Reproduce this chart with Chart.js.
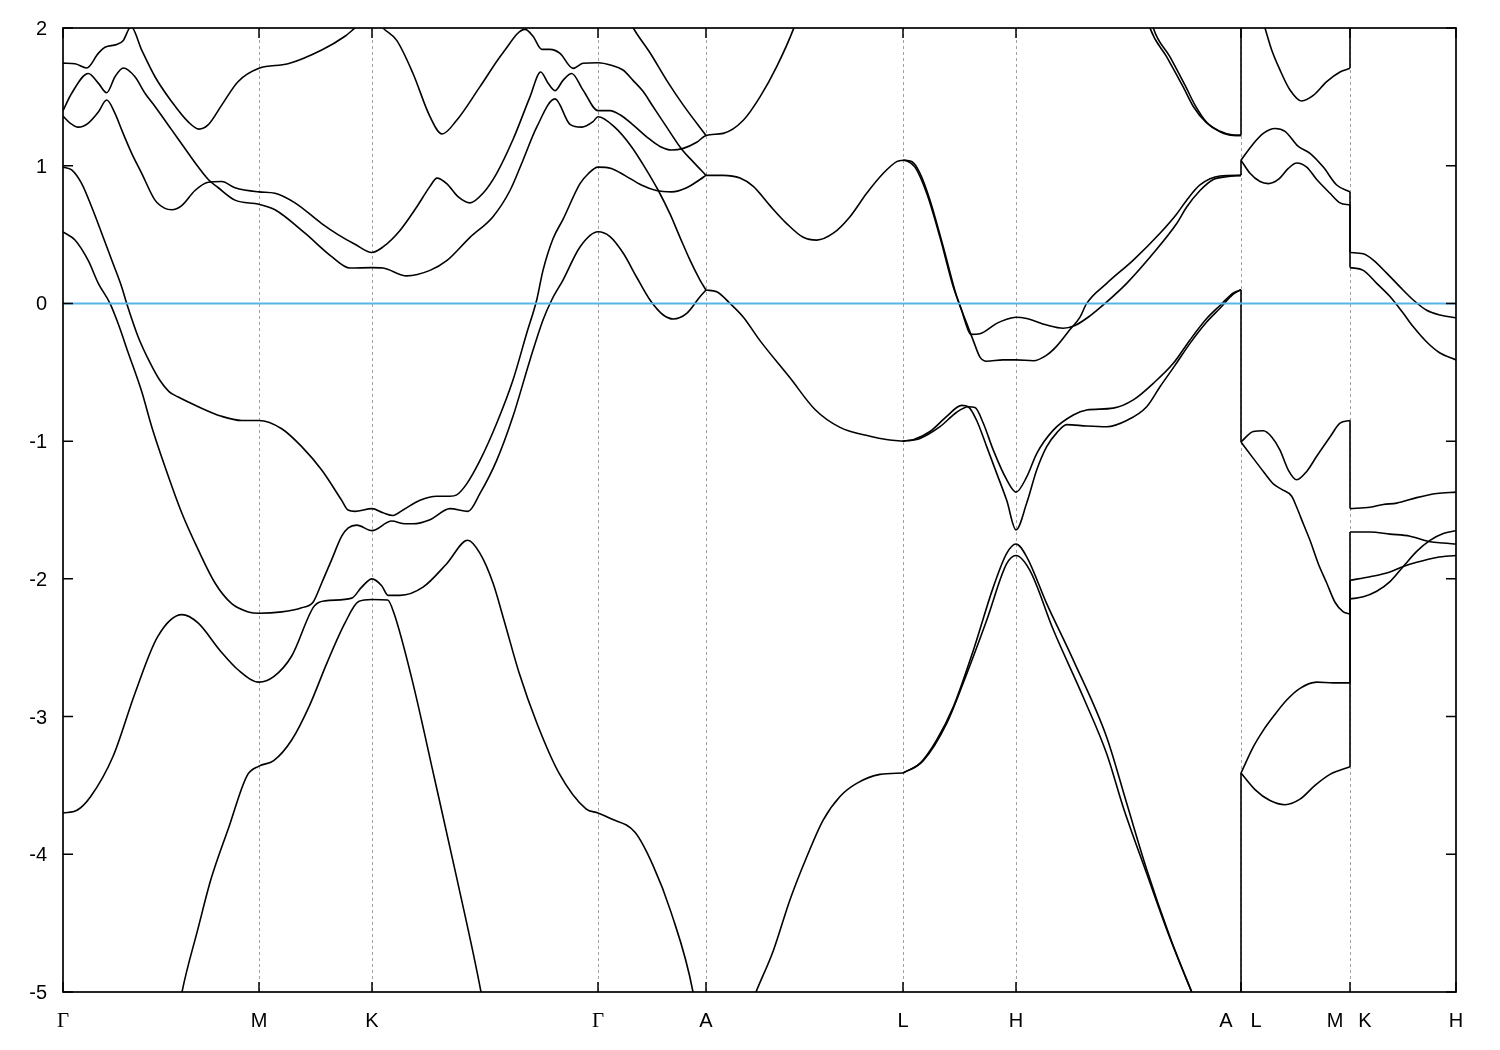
<!DOCTYPE html>
<html><head><meta charset="utf-8">
<script src="https://cdn.jsdelivr.net/npm/chart.js@4.4.1/dist/chart.umd.min.js"></script>
<style>html,body{margin:0;padding:0;background:#fff}</style>
</head><body>
<canvas id="c" width="1500" height="1050"></canvas>
<script>
// high-symmetry points along the k-path (path distance units)
const kTicks = [0, 1.96, 3.09, 5.35, 6.43, 8.40, 9.53, 11.78, 12.87, 13.93];
const kLabels = ['Γ', 'M', 'K', 'Γ', 'A', 'L', 'H', 'A|L', 'M|K', 'H'];
const energyTicks = [2, 1, 0, -1, -2, -3, -4, -5];
const fermiLevel = 0;

// bands: [k, E(eV)]
const bandA = [[0,1.745],[0.12,1.74],[0.237,1.71],[0.353,1.816],[0.42,1.86],[0.537,1.88],[0.603,1.91],[0.68,2.01],[0.787,1.84],[0.92,1.646],[1.087,1.465],[1.25,1.32],[1.36,1.266],[1.45,1.296],[1.587,1.44],[1.75,1.61],[1.96,1.707],[2.25,1.74],[2.587,1.84],[2.82,1.94],[2.92,2.0],[3.09,2.1],[3.2,2.0],[3.337,1.91],[3.5,1.67],[3.67,1.356],[3.79,1.23],[3.937,1.33],[4.17,1.574],[4.40,1.82],[4.62,1.99],[4.70,1.94],[4.787,1.845],[4.87,1.845],[4.97,1.816],[5.10,1.707],[5.20,1.744],[5.35,1.748],[5.483,1.73],[5.60,1.695],[5.70,1.62],[5.80,1.54],[5.90,1.43],[6.037,1.28],[6.187,1.12],[6.30,1.03],[6.43,0.93]];
const bandB = [[0,1.40],[0.087,1.526],[0.253,1.67],[0.353,1.60],[0.437,1.53],[0.52,1.646],[0.603,1.71],[0.72,1.646],[0.82,1.526],[0.92,1.43],[1.087,1.26],[1.253,1.09],[1.353,0.99],[1.453,0.90],[1.553,0.84],[1.72,0.75],[1.96,0.72],[2.12,0.68],[2.42,0.51],[2.687,0.34],[2.87,0.257],[3.09,0.26],[3.2,0.257],[3.437,0.20],[3.67,0.24],[3.837,0.31],[4.07,0.48],[4.30,0.63],[4.47,0.82],[4.60,1.04],[4.737,1.28],[4.92,1.485],[5.07,1.30],[5.187,1.28],[5.30,1.32],[5.35,1.356],[5.517,1.28],[5.683,1.14],[5.817,0.99],[5.953,0.82],[6.07,0.65],[6.17,0.48],[6.27,0.315],[6.37,0.17],[6.43,0.097]];
const bandC = [[0,1.36],[0.07,1.31],[0.153,1.28],[0.253,1.31],[0.353,1.39],[0.437,1.477],[0.52,1.38],[0.587,1.26],[0.687,1.09],[0.787,0.945],[0.92,0.75],[1.02,0.69],[1.087,0.68],[1.187,0.71],[1.32,0.82],[1.453,0.88],[1.587,0.885],[1.72,0.84],[1.96,0.81],[2.12,0.80],[2.32,0.73],[2.587,0.58],[2.75,0.50],[2.92,0.43],[3.09,0.37],[3.20,0.41],[3.37,0.53],[3.537,0.70],[3.67,0.85],[3.74,0.91],[3.837,0.87],[3.95,0.775],[4.07,0.73],[4.20,0.80],[4.337,0.945],[4.50,1.19],[4.67,1.50],[4.777,1.68],[4.85,1.60],[4.92,1.545],[5.00,1.62],[5.087,1.67],[5.20,1.55],[5.35,1.40],[5.47,1.40],[5.57,1.37],[5.703,1.295],[5.837,1.21],[5.97,1.14],[6.087,1.114],[6.203,1.126],[6.337,1.17],[6.43,1.22],[6.603,1.235],[6.803,1.33],[6.97,1.50],[7.137,1.72],[7.303,1.99],[7.40,2.2]];
const bandD = [[0,0.99],[0.087,0.97],[0.187,0.87],[0.287,0.70],[0.387,0.51],[0.487,0.315],[0.587,0.12],[0.637,0.0],[0.753,-0.245],[0.87,-0.43],[0.97,-0.56],[1.06,-0.64],[1.153,-0.68],[1.353,-0.75],[1.587,-0.82],[1.787,-0.85],[1.96,-0.85],[2.187,-0.91],[2.387,-1.04],[2.587,-1.21],[2.787,-1.43],[2.85,-1.50],[2.92,-1.51],[3.09,-1.49],[3.20,-1.52],[3.30,-1.54],[3.40,-1.50],[3.57,-1.43],[3.737,-1.40],[3.87,-1.40],[3.937,-1.39],[4.037,-1.31],[4.17,-1.14],[4.337,-0.87],[4.50,-0.556],[4.637,-0.217],[4.737,0.025],[4.80,0.24],[4.90,0.47],[5.00,0.61],[5.17,0.87],[5.25,0.94],[5.35,0.99],[5.483,0.98],[5.617,0.93],[5.783,0.86],[5.933,0.82],[6.087,0.81],[6.237,0.84],[6.37,0.90],[6.43,0.93]];
const bandE = [[0,0.52],[0.12,0.46],[0.253,0.31],[0.353,0.146],[0.47,0.0],[0.553,-0.15],[0.653,-0.36],[0.787,-0.64],[0.887,-0.895],[1.02,-1.186],[1.187,-1.52],[1.353,-1.79],[1.52,-2.03],[1.687,-2.18],[1.853,-2.24],[1.96,-2.25],[2.187,-2.24],[2.387,-2.21],[2.50,-2.17],[2.587,-2.03],[2.687,-1.86],[2.787,-1.69],[2.853,-1.63],[2.937,-1.61],[3.09,-1.65],[3.287,-1.58],[3.42,-1.60],[3.50,-1.60],[3.67,-1.57],[3.87,-1.49],[4.05,-1.51],[4.17,-1.38],[4.337,-1.14],[4.50,-0.82],[4.67,-0.41],[4.80,-0.12],[4.887,0.025],[5.00,0.17],[5.17,0.41],[5.35,0.52],[5.47,0.485],[5.603,0.364],[5.737,0.19],[5.87,0.025],[6.003,-0.084],[6.103,-0.113],[6.237,-0.072],[6.37,0.049],[6.43,0.097]];
const bandF = [[5.62,2.12],[5.703,2.0],[5.87,1.82],[6.037,1.62],[6.203,1.44],[6.43,1.22]];
const bandG = [[0,-3.70],[0.14,-3.68],[0.277,-3.58],[0.50,-3.29],[0.72,-2.83],[0.947,-2.42],[1.19,-2.26],[1.35,-2.32],[1.57,-2.52],[1.75,-2.66],[1.96,-2.75],[2.107,-2.71],[2.287,-2.56],[2.51,-2.20],[2.62,-2.16],[2.887,-2.14],[2.987,-2.06],[3.09,-2.0],[3.187,-2.05],[3.25,-2.12],[3.37,-2.12],[3.60,-2.06],[3.837,-1.89],[4.047,-1.72],[4.17,-1.815],[4.30,-2.03],[4.41,-2.30],[4.56,-2.68],[4.74,-3.05],[4.96,-3.41],[5.23,-3.67],[5.35,-3.70],[5.475,-3.74],[5.72,-3.84],[5.90,-4.08],[6.08,-4.42],[6.30,-5.0],[6.36,-5.3]];
const bandH = [[1.12,-5.3],[1.19,-5.0],[1.35,-4.54],[1.48,-4.18],[1.66,-3.80],[1.84,-3.43],[1.96,-3.36],[2.107,-3.32],[2.287,-3.17],[2.465,-2.92],[2.64,-2.61],[2.82,-2.32],[2.956,-2.165],[3.09,-2.15],[3.246,-2.154],[3.31,-2.25],[3.49,-2.73],[3.715,-3.45],[3.94,-4.18],[4.18,-5.0],[4.25,-5.3]];
const bandAL1 = [[6.43,0.93],[6.603,0.93],[6.77,0.91],[6.903,0.85],[7.07,0.71],[7.237,0.58],[7.403,0.48],[7.537,0.46],[7.703,0.51],[7.87,0.63],[8.037,0.80],[8.203,0.945],[8.337,1.03],[8.40,1.04]];
const bandAL2 = [[6.43,0.097],[6.537,0.085],[6.67,0.0],[6.80,-0.097],[6.97,-0.27],[7.27,-0.54],[7.52,-0.77],[7.77,-0.90],[8.07,-0.965],[8.25,-0.99],[8.40,-1.0]];
const bandAL3 = [[6.85,-5.15],[6.93,-5.0],[7.103,-4.70],[7.27,-4.33],[7.437,-4.02],[7.603,-3.75],[7.77,-3.58],[7.937,-3.485],[8.17,-3.42],[8.40,-3.41]];
const bandP = [[8.40,1.04],[8.437,1.036],[8.52,0.99],[8.637,0.80],[8.77,0.48],[8.903,0.12],[8.987,-0.05],[9.02,-0.13],[9.077,-0.225],[9.17,-0.22],[9.337,-0.145],[9.437,-0.115],[9.53,-0.10],[9.637,-0.11],[9.837,-0.157],[10.003,-0.18],[10.12,-0.16],[10.27,-0.09],[10.42,0.0],[10.637,0.146],[10.903,0.364],[11.137,0.58],[11.237,0.70],[11.37,0.82],[11.503,0.90],[11.637,0.92],[11.78,0.93]];
const bandQ = [[8.40,1.04],[8.487,1.03],[8.57,0.945],[8.67,0.75],[8.803,0.41],[8.937,0.05],[9.037,-0.145],[9.103,-0.27],[9.17,-0.39],[9.237,-0.42],[9.40,-0.41],[9.53,-0.41],[9.703,-0.416],[9.837,-0.375],[9.937,-0.31],[10.07,-0.19],[10.17,-0.10],[10.237,0.0],[10.437,0.146],[10.703,0.315],[10.97,0.51],[11.137,0.65],[11.237,0.75],[11.37,0.86],[11.57,0.925],[11.78,0.93]];
const bandR = [[8.40,-1.0],[8.503,-0.99],[8.67,-0.93],[8.837,-0.82],[8.987,-0.74],[9.053,-0.75],[9.137,-0.85],[9.237,-1.04],[9.337,-1.234],[9.437,-1.43],[9.53,-1.645],[9.637,-1.45],[9.737,-1.21],[9.837,-1.04],[9.937,-0.94],[10.037,-0.88],[10.237,-0.89],[10.437,-0.895],[10.637,-0.85],[10.837,-0.75],[10.97,-0.605],[11.12,-0.45],[11.27,-0.29],[11.437,-0.135],[11.57,-0.035],[11.70,0.065],[11.78,0.10]];
const bandS = [[8.40,-1.0],[8.57,-0.98],[8.77,-0.895],[8.937,-0.79],[9.053,-0.75],[9.12,-0.755],[9.203,-0.87],[9.303,-1.065],[9.437,-1.28],[9.53,-1.37],[9.637,-1.26],[9.737,-1.09],[9.903,-0.92],[10.103,-0.81],[10.237,-0.774],[10.503,-0.76],[10.703,-0.70],[10.903,-0.58],[11.103,-0.435],[11.27,-0.265],[11.437,-0.11],[11.57,-0.015],[11.70,0.075],[11.78,0.10]];
const bandU = [[8.40,-3.41],[8.57,-3.34],[8.737,-3.17],[8.903,-2.93],[9.103,-2.52],[9.303,-2.06],[9.437,-1.815],[9.53,-1.747],[9.637,-1.84],[9.837,-2.18],[10.103,-2.59],[10.437,-3.15],[10.637,-3.63],[10.837,-4.11],[11.07,-4.60],[11.287,-5.0],[11.40,-5.2]];
const bandV = [[8.40,-3.41],[8.603,-3.32],[8.837,-3.05],[9.037,-2.69],[9.237,-2.30],[9.437,-1.89],[9.53,-1.83],[9.67,-1.94],[9.903,-2.37],[10.203,-2.86],[10.437,-3.27],[10.603,-3.66],[10.837,-4.14],[11.07,-4.61],[11.287,-5.0],[11.40,-5.2]];
const bandT1 = [[10.80,2.2],[10.87,2.0],[11.037,1.79],[11.203,1.57],[11.303,1.43],[11.437,1.31],[11.57,1.247],[11.703,1.22],[11.78,1.22]];
const bandT2 = [[10.84,2.2],[10.903,2.0],[11.07,1.79],[11.23,1.57],[11.32,1.44],[11.437,1.315],[11.57,1.25],[11.703,1.222],[11.78,1.22]];
const bandLM1 = [[11.78,2.6],[11.90,2.3],[12.02,2.0],[12.087,1.84],[12.17,1.695],[12.27,1.55],[12.387,1.47],[12.503,1.51],[12.637,1.61],[12.77,1.68],[12.87,1.707]];
const bandLM2 = [[11.78,1.04],[11.903,1.16],[12.003,1.235],[12.12,1.27],[12.22,1.25],[12.353,1.14],[12.47,1.09],[12.603,0.99],[12.737,0.86],[12.87,0.81]];
const bandLM3 = [[11.78,1.04],[11.87,0.945],[11.97,0.885],[12.053,0.87],[12.153,0.90],[12.253,0.98],[12.337,1.02],[12.437,0.99],[12.537,0.90],[12.67,0.80],[12.77,0.73],[12.87,0.715]];
const bandLM4 = [[11.78,-1.006],[11.903,-0.93],[12.003,-0.925],[12.087,-0.97],[12.17,-1.065],[12.253,-1.21],[12.337,-1.28],[12.437,-1.22],[12.537,-1.11],[12.67,-0.97],[12.77,-0.87],[12.87,-0.85]];
const bandLM5 = [[11.78,-1.006],[11.903,-1.125],[12.003,-1.22],[12.103,-1.31],[12.187,-1.35],[12.287,-1.40],[12.337,-1.48],[12.403,-1.60],[12.47,-1.72],[12.553,-1.89],[12.637,-2.03],[12.72,-2.17],[12.803,-2.24],[12.87,-2.255]];
const bandLM6 = [[11.78,-3.41],[11.903,-3.22],[12.003,-3.10],[12.103,-3.00],[12.237,-2.88],[12.37,-2.795],[12.537,-2.75],[12.703,-2.755],[12.87,-2.755]];
const bandLM7 = [[11.78,-3.41],[11.92,-3.53],[12.07,-3.61],[12.22,-3.64],[12.37,-3.60],[12.52,-3.50],[12.67,-3.42],[12.87,-3.365]];
const bandKH1 = [[12.87,0.37],[13.003,0.36],[13.103,0.315],[13.237,0.22],[13.37,0.12],[13.503,0.025],[13.637,-0.05],[13.77,-0.084],[13.93,-0.104]];
const bandKH2 = [[12.87,0.26],[13.003,0.24],[13.137,0.146],[13.27,0.05],[13.403,-0.072],[13.503,-0.17],[13.637,-0.28],[13.77,-0.36],[13.93,-0.41]];
const bandKH3 = [[12.87,-1.49],[13.07,-1.48],[13.203,-1.46],[13.337,-1.45],[13.537,-1.41],[13.737,-1.38],[13.93,-1.37]];
const bandKH4 = [[12.87,-1.66],[13.07,-1.66],[13.27,-1.675],[13.47,-1.69],[13.67,-1.73],[13.803,-1.74],[13.93,-1.747]];
const bandKH5 = [[12.87,-2.01],[13.07,-1.985],[13.27,-1.95],[13.403,-1.91],[13.537,-1.88],[13.737,-1.845],[13.93,-1.83]];
const bandKH6 = [[12.87,-2.146],[13.003,-2.13],[13.137,-2.09],[13.27,-2.02],[13.403,-1.91],[13.537,-1.80],[13.67,-1.72],[13.803,-1.67],[13.93,-1.65]];

// band jumps at the path discontinuities: [energy before, energy after]
const jumpsAL = [[1.22,2.6],[0.93,1.04],[0.10,-1.006],[-5.3,-3.41]];
const jumpsMK = [[1.707,2.6],[0.81,0.37],[0.715,0.26],[-0.85,-1.49],[-2.255,-1.66],[-2.755,-2.01],[-3.365,-2.146]];

const bands = [bandA,bandB,bandC,bandD,bandE,bandF,bandG,bandH,bandAL1,bandAL2,bandAL3,bandP,bandQ,bandR,bandS,bandU,bandV,bandT1,bandT2,bandLM1,bandLM2,bandLM3,bandLM4,bandLM5,bandLM6,bandLM7,bandKH1,bandKH2,bandKH3,bandKH4,bandKH5,bandKH6];

const datasets = bands.map(b => ({
  data: b.map(p => ({x: p[0], y: p[1]})),
  showLine: true, borderColor: '#000', borderWidth: 1.6, pointRadius: 0,
  cubicInterpolationMode: 'monotone', fill: false
}));
[[kTicks[7], jumpsAL], [kTicks[8], jumpsMK]].forEach(([k, list]) => {
  list.forEach(j => datasets.push({
    data: [{x: k, y: j[0]}, {x: k, y: j[1]}],
    showLine: true, borderColor: '#000', borderWidth: 1.6, pointRadius: 0, tension: 0, fill: false
  }));
});

const overlay = {
  id: 'overlay',
  beforeDatasetsDraw(chart) {
    const {ctx, chartArea: a, scales: {x}} = chart;
    ctx.save();
    ctx.strokeStyle = '#a0a0a0'; ctx.lineWidth = 1; ctx.setLineDash([3, 3]);
    kTicks.slice(1, -1).forEach(k => {
      const px = Math.round(x.getPixelForValue(k)) + 0.5;
      ctx.beginPath(); ctx.moveTo(px, a.top); ctx.lineTo(px, a.bottom); ctx.stroke();
    });
    ctx.restore();
  },
  afterDatasetsDraw(chart) {
    const {ctx, chartArea: a, scales: {x, y}} = chart;
    ctx.save();
    // Fermi level
    const fy = y.getPixelForValue(fermiLevel);
    ctx.strokeStyle = '#56b4e9'; ctx.lineWidth = 2;
    ctx.beginPath(); ctx.moveTo(a.left, fy); ctx.lineTo(a.right, fy); ctx.stroke();
    // frame
    ctx.strokeStyle = '#000'; ctx.lineWidth = 1.7;
    ctx.strokeRect(a.left, a.top, a.right - a.left, a.bottom - a.top);
    // y ticks + labels
    ctx.lineWidth = 1.5;
    ctx.fillStyle = '#000';
    ctx.font = '20px "Liberation Sans", Arial, sans-serif';
    ctx.textAlign = 'right'; ctx.textBaseline = 'alphabetic';
    energyTicks.forEach(v => {
      const py = y.getPixelForValue(v);
      ctx.beginPath();
      ctx.moveTo(a.left, py); ctx.lineTo(a.left + 10, py);
      ctx.moveTo(a.right, py); ctx.lineTo(a.right - 10, py);
      ctx.stroke();
      ctx.fillText(String(v), a.left - 16, py + 7);
    });
    // x ticks + labels
    ctx.textAlign = 'center';
    kTicks.forEach((k, i) => {
      const px = x.getPixelForValue(k);
      ctx.beginPath();
      ctx.moveTo(px, a.bottom); ctx.lineTo(px, a.bottom - 10);
      ctx.moveTo(px, a.top); ctx.lineTo(px, a.top + 10);
      ctx.stroke();
      const parts = kLabels[i].split('|');
      const offs = parts.length === 2 ? [-15, 15] : [0];
      parts.forEach((t, j) => {
        ctx.font = t === 'Γ' ? '21px "Liberation Serif", "Times New Roman", serif' : '20px "Liberation Sans", Arial, sans-serif';
        ctx.fillText(t, px + offs[j], a.bottom + 35);
      });
    });
    ctx.restore();
  }
};

new Chart(document.getElementById('c'), {
  type: 'scatter',
  data: { datasets },
  options: {
    responsive: false, devicePixelRatio: 1, animation: false,
    layout: { padding: { left: 63, right: 44, top: 28, bottom: 58 } },
    scales: {
      x: { type: 'linear', min: kTicks[0], max: kTicks[kTicks.length - 1], display: false },
      y: { type: 'linear', min: -5, max: 2, display: false }
    },
    plugins: { legend: { display: false }, tooltip: { enabled: false } },
    elements: { point: { radius: 0 } }
  },
  plugins: [overlay]
});
</script>
</body></html>
